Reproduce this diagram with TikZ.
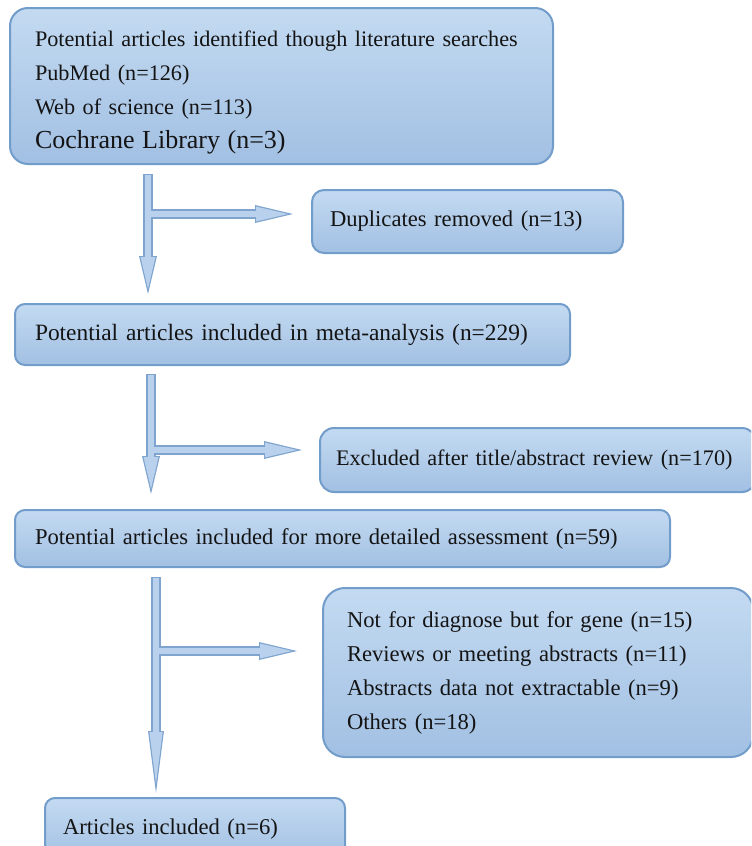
\documentclass[tikz,border=0pt]{standalone}
\usepackage{fontspec}
\setmainfont{Liberation Serif}
\usetikzlibrary{arrows.meta,calc}
\definecolor{PrismaInk}{HTML}{141414}
\definecolor{PrismaEdge}{HTML}{729CCA}
\definecolor{PrismaTop}{HTML}{C3DAF1}
\definecolor{PrismaBottom}{HTML}{A2C0E3}
\definecolor{PrismaArrowEdge}{HTML}{7FA5CF}
\definecolor{PrismaArrowFill}{HTML}{B9D1EC}
\tikzset{
  prisma text/.style={font=\fontsize{11.3}{17}\selectfont, text=PrismaInk},
  prisma wide/.style={font=\fontsize{11.7}{17.2}\selectfont},
  prisma box/.style={prisma text, draw=PrismaEdge, line width=1pt, top color=PrismaTop, bottom color=PrismaBottom,
    rounded corners=5pt, anchor=north west, align=left, inner ysep=0pt, outer sep=0pt},
  prisma edge/.style={draw=PrismaArrowEdge, line width=4.6pt, -{Triangle[length=19pt,width=9pt,line width=0pt]}},
  prisma body/.style={draw=PrismaArrowFill, line width=3.2pt, shorten <=.6pt, shorten >=2.6pt,
    -{Triangle[length=15.8pt,width=7.4pt,line width=0pt]}},
  prisma edge long/.style={prisma edge, -{Triangle[length=31pt,width=8pt,line width=0pt]}},
  prisma body long/.style={prisma body, shorten >=4.7pt, -{Triangle[length=25.7pt,width=6.6pt,line width=0pt]}},
}
\begin{document}
\begin{tikzpicture}[x=.5pt,y=-.5pt]
  \clip (0,0) rectangle (751,846);

  % Main column on the left, exclusions on the right.
  \node[prisma box, rounded corners=9pt, minimum height=78pt, text width=246.5pt, inner xsep=12.5pt] (search) at (10,8)
    {\fontsize{11.1}{17}\selectfont\rule{0pt}{14.8pt}Potential articles identified though literature searches\\
     PubMed (n=126)\\
     Web of science (n=113)\\
     {\fontsize{13}{17}\selectfont Cochrane Library (n=3)}};
  \node[prisma box, rounded corners=6pt, minimum height=31.5pt, text width=137.5pt, inner xsep=9pt] (dups) at (312,190)
    {Duplicates removed (n=13)};
  \node[prisma box, prisma wide, minimum height=30.5pt, text width=257.5pt, inner xsep=10pt] (merged) at (15,304)
    {Potential articles included in meta-analysis (n=229)};
  \node[prisma box, rounded corners=7pt, minimum height=32pt, text width=202pt, inner xsep=8pt] (excluded) at (320,428)
    {\fontsize{11.1}{17}\selectfont Excluded after title/abstract review (n=170)};
  \node[prisma box, minimum height=28.5pt, text width=307.5pt, inner xsep=10pt] (assessed) at (15,510)
    {Potential articles included for more detailed assessment (n=59)};
  \node[prisma box, rounded corners=11pt, minimum height=84.5pt, text width=191pt, inner xsep=12pt] (rejected) at (323,588)
    {Not for diagnose but for gene (n=15)\\
     Reviews or meeting abstracts (n=11)\\
     Abstracts data not extractable (n=9)\\
     Others (n=18)};
  \node[prisma box, minimum height=31.5pt, text width=132pt, inner xsep=9pt] (included) at (45,798)
    {Articles included (n=6)};

  % Searches -> pooled set, duplicates split off.
  \coordinate (dropA) at ($(search.south west)+(138,10)$);
  \coordinate (landA) at ($(merged.north west)+(133,-10)$);
  \coordinate (forkA) at ($(dropA)+(0,40)$);
  \coordinate (sideA) at ($(forkA -| dups.west)+(-19,0)$);
  \draw[prisma edge] (dropA) -- (landA);
  \draw[prisma edge] (forkA) -- (sideA);
  \draw[prisma body] (dropA) -- (landA);
  \draw[prisma body] (forkA) -- (sideA);

  % Title/abstract screening.
  \coordinate (dropB) at ($(merged.south west)+(136,9)$);
  \coordinate (landB) at ($(assessed.north west)+(136,-16)$);
  \coordinate (forkB) at ($(dropB)+(0,76)$);
  \coordinate (sideB) at ($(forkB -| excluded.west)+(-18,0)$);
  \draw[prisma edge] (dropB) -- (landB);
  \draw[prisma edge] (forkB) -- (sideB);
  \draw[prisma body] (dropB) -- (landB);
  \draw[prisma body] (forkB) -- (sideB);

  % Full-text assessment down to the final set.
  \coordinate (dropC) at ($(assessed.south west)+(141,10)$);
  \coordinate (landC) at ($(included.north west)+(111,-5)$);
  \coordinate (forkC) at ($(dropC)+(0,74)$);
  \coordinate (sideC) at ($(forkC -| rejected.west)+(-26,0)$);
  \draw[prisma edge long] (dropC) -- (landC);
  \draw[prisma edge] (forkC) -- (sideC);
  \draw[prisma body long] (dropC) -- (landC);
  \draw[prisma body] (forkC) -- (sideC);
\end{tikzpicture}
\end{document}
